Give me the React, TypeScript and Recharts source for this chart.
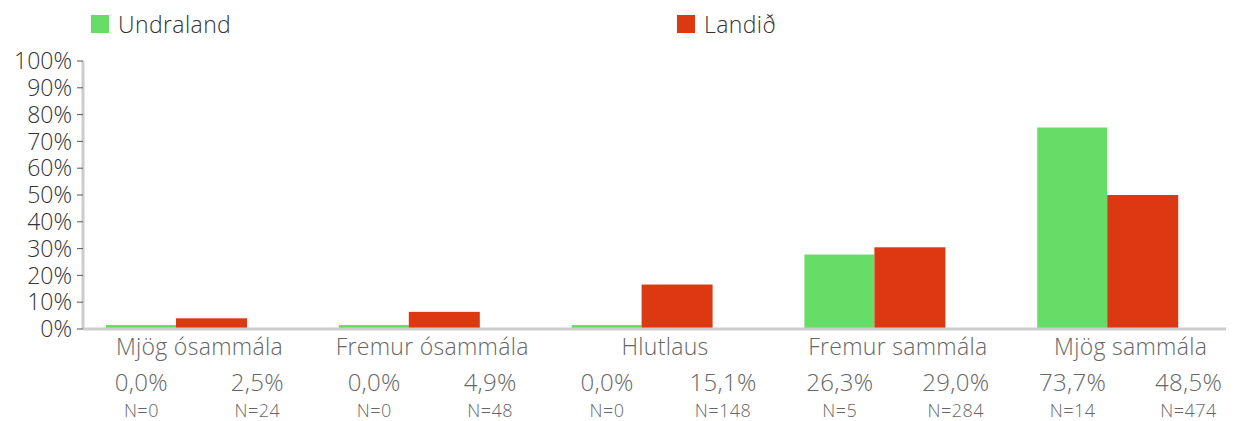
import React from 'react';
import { BarChart, Bar, XAxis, YAxis } from 'recharts';

const categories = ['Mjög ósammála', 'Fremur ósammála', 'Hlutlaus', 'Fremur sammála', 'Mjög sammála'];
const seriesNames = ['Undraland', 'Landið'];
const seriesColors = ['#66DD66', '#DC3912'];
const undraland = [0, 0, 0, 26.3, 73.7];
const landid = [2.5, 4.9, 15.1, 29.0, 48.5];
const undralandN = [0, 0, 0, 5, 14];
const landidN = [24, 48, 148, 284, 474];
const yTicks = [0, 10, 20, 30, 40, 50, 60, 70, 80, 90, 100];

const data = categories.map((c, i) => ({
  name: c,
  undraland: undraland[i],
  landid: landid[i],
  nU: undralandN[i],
  nL: landidN[i],
}));

const FONT = '"Open Sans", Lato, sans-serif';
const fmt = (v: number) => v.toFixed(1).replace('.', ',') + '%';

const XTick = (props: any) => {
  const { x, y, payload, index } = props;
  const i = index ?? categories.indexOf(payload.value);
  return (
    <g fontFamily={FONT} fontWeight={300} fill="#666">
      <text x={x} y={y + 26} textAnchor="middle" fontSize={23} letterSpacing={0.3}>{payload.value}</text>
      <text x={x - 58} y={y + 62} textAnchor="middle" fontSize={24} letterSpacing={0.3}>{fmt(undraland[i])}</text>
      <text x={x + 58} y={y + 62} textAnchor="middle" fontSize={24} letterSpacing={0.3}>{fmt(landid[i])}</text>
      <text x={x - 58} y={y + 88} textAnchor="middle" fontSize={18} letterSpacing={0.5}>{'N=' + undralandN[i]}</text>
      <text x={x + 58} y={y + 88} textAnchor="middle" fontSize={18} letterSpacing={0.5}>{'N=' + landidN[i]}</text>
    </g>
  );
};

const makeShape = (color: string) => (props: any) => {
  const { x, y, width, height } = props;
  return <rect x={x} y={y - 4} width={width} height={(height || 0) + 4} fill={color} />;
};

const legendX = [91, 677];

export default function App() {
  return (
    <div style={{ position: 'relative', width: 1234, height: 421, overflow: 'hidden', margin: '-8px 0 0 -8px', fontFamily: FONT }}>
      {seriesNames.map((n, i) => (
        <div key={n} style={{ position: 'absolute', left: legendX[i], top: 8, display: 'flex', alignItems: 'center', fontSize: 23, fontWeight: 300, color: '#333', letterSpacing: 0.4 }}>
          <span style={{ display: 'inline-block', width: 18, height: 18, background: seriesColors[i], marginRight: 9 }} />
          <span>{n}</span>
        </div>
      ))}
      <BarChart width={1262} height={421} data={data} margin={{ top: 61, right: 15, bottom: 0, left: 0 }} barGap={0}>
        <YAxis
          width={83}
          domain={[0, 100]}
          ticks={yTicks}
          interval={0}
          tickFormatter={(v: number) => v + '%'}
          axisLine={{ stroke: '#ccc', strokeWidth: 3 }}
          tickLine={{ stroke: '#555' }}
          tickSize={6}
          tickMargin={5}
          tick={{ fontSize: 23, fill: '#333', fontFamily: FONT, fontWeight: 300 }}
        />
        <XAxis
          dataKey="name"
          height={92}
          interval={0}
          tickLine={false}
          tickSize={0}
          tickMargin={0}
          axisLine={{ stroke: '#ccc', strokeWidth: 3 }}
          tick={<XTick />}
        />
        <Bar dataKey="undraland" barSize={70} fill={seriesColors[0]} shape={makeShape(seriesColors[0])} isAnimationActive={false} />
        <Bar dataKey="landid" barSize={71} fill={seriesColors[1]} shape={makeShape(seriesColors[1])} isAnimationActive={false} />
        <Bar dataKey={() => 0} barSize={46} fill="none" legendType="none" isAnimationActive={false} />
      </BarChart>
    </div>
  );
}
